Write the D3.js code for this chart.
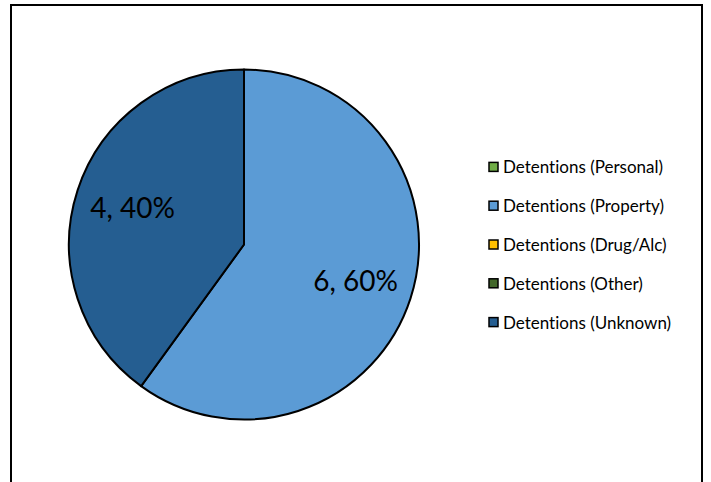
<!DOCTYPE html>
<html>
<head>
<meta charset="utf-8">
<script src="https://cdn.jsdelivr.net/npm/d3@7"></script>
<style>
  body { margin: 0; background: #fff; }
  svg { display: block; }
  text { font-variant-ligatures: none; }
</style>
</head>
<body>
<script>
// Chart data
const categories = ["Detentions (Personal)", "Detentions (Property)", "Detentions (Drug/Alc)", "Detentions (Other)", "Detentions (Unknown)"];
const counts = [0, 6, 0, 0, 4];
const colors = ["#70AD47", "#5B9BD5", "#FFC000", "#43682B", "#255E91"];

const data = categories.map((c, i) => ({ key: c, value: counts[i], color: colors[i] }));
const total = d3.sum(counts);

const width = 711, height = 482;

const svg = d3.select("body").append("svg")
    .attr("width", width)
    .attr("height", height);

// chart area border (runs off the bottom)
svg.append("rect")
    .attr("x", 11)
    .attr("y", 5)
    .attr("width", 691)
    .attr("height", 490)
    .attr("fill", "#fff")
    .attr("stroke", "#000")
    .attr("stroke-width", 2);

// Pie
const cx = 244, cy = 244.5, radius = 175;
const g = svg.append("g").attr("transform", `translate(${cx},${cy})`);

const pie = d3.pie().value(d => d.value).sort(null);
const arc = d3.arc().innerRadius(0).outerRadius(radius);
const labelArc = d3.arc().innerRadius(radius * 0.67).outerRadius(radius * 0.67);

const slices = pie(data).filter(d => d.data.value > 0);

g.selectAll("path")
    .data(slices)
    .enter()
    .append("path")
    .attr("d", arc)
    .attr("fill", d => d.data.color)
    .attr("stroke", "#000")
    .attr("stroke-width", 2)
    .attr("stroke-linejoin", "round");

g.selectAll("text")
    .data(slices)
    .enter()
    .append("text")
    .attr("transform", d => `translate(${labelArc.centroid(d)})`)
    .attr("text-anchor", "middle")
    .attr("dy", "0.35em")
    .style("font-family", "Lato, 'Open Sans', sans-serif")
    .style("font-size", "28px")
    .style("fill", "#000")
    .text(d => `${d.data.value}, ${Math.round(d.data.value / total * 100)}%`);

// Legend
const legend = d3.scaleBand()
    .domain(categories)
    .range([148, 342]);

const items = svg.selectAll(".legend")
    .data(data)
    .enter()
    .append("g")
    .attr("class", "legend")
    .attr("transform", d => `translate(489,${legend(d.key) + legend.bandwidth() / 2})`);

items.append("rect")
    .attr("x", 0)
    .attr("y", -5)
    .attr("width", 9)
    .attr("height", 9)
    .attr("fill", d => d.color)
    .attr("stroke", "#000")
    .attr("stroke-width", 1.5);

items.append("text")
    .attr("x", 14)
    .attr("dy", "0.35em")
    .style("font-family", "Lato, 'Open Sans', sans-serif")
    .style("font-size", "17px")
    .style("fill", "#000")
    .text(d => d.key);
</script>
</body>
</html>
